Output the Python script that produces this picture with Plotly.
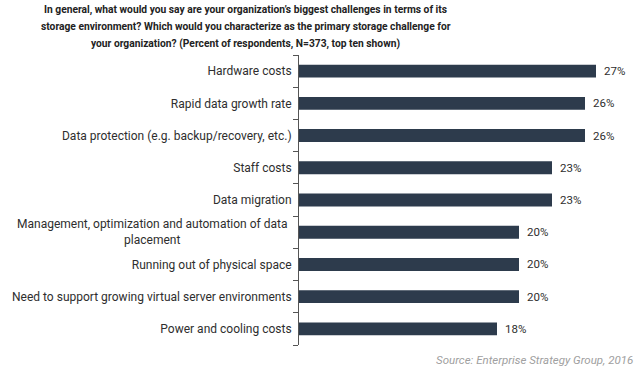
import plotly.graph_objects as go

categories = [
    "Hardware costs",
    "Rapid data growth rate",
    "Data protection (e.g. backup/recovery, etc.)",
    "Staff costs",
    "Data migration",
    "Management, optimization and automation of data<br>placement",
    "Running out of physical space",
    "Need to support growing virtual server environments",
    "Power and cooling costs",
]
values = [27, 26, 26, 23, 23, 20, 20, 20, 18]
value_labels = ["27%", "26%", "26%", "23%", "23%", "20%", "20%", "20%", "18%"]
title_lines = [
    "In general, what would you say are your organization’s biggest challenges in terms of its",
    "storage environment? Which would you characterize as the primary storage challenge for",
    "your organization? (Percent of respondents, N=373, top ten shown)",
]
source_text = "Source: Enterprise Strategy Group, 2016"

FONT = "Roboto, sans-serif"
BAR = "#2d3b4c"
TXT = "#2e2e2e"

fig = go.Figure()
fig.add_trace(go.Bar(
    x=values, y=categories, orientation="h",
    marker=dict(color=BAR, line=dict(width=0)),
    width=0.4, hoverinfo="skip",
))

multi = categories[5]
ticktext = ["" if c == multi else c for c in categories]

annotations = []
for c, v, t in zip(categories, values, value_labels):
    annotations.append(dict(x=v, y=c, xref="x", yref="y", text=t, showarrow=False,
                            xanchor="left", xshift=6,
                            font=dict(family=FONT, size=11.5, color=TXT)))
annotations.append(dict(x=0, y=multi, xref="paper", yref="y", text=multi, showarrow=False,
                        xanchor="right", xshift=-10, align="center",
                        font=dict(family=FONT, size=12, color=TXT)))
for line, shift in zip(title_lines, [46, 29, 12]):
    annotations.append(dict(x=-0.161, y=1, xref="paper", yref="paper", yshift=shift,
                            text="<b>" + line + "</b>", showarrow=False,
                            xanchor="center", yanchor="middle",
                            font=dict(family=FONT, size=10.25, color="#222222")))
annotations.append(dict(x=1, y=0, xref="paper", yref="paper", yshift=-15, xshift=6,
                        text="<i>" + source_text + "</i>", showarrow=False,
                        xanchor="right", yanchor="middle",
                        font=dict(family=FONT, size=11.5, color="#a0a0a0")))

fig.update_layout(
    width=640, height=366,
    margin=dict(l=299, r=11, t=55, b=21, autoexpand=False),
    paper_bgcolor="white", plot_bgcolor="white",
    showlegend=False,
    xaxis=dict(range=[0, 30], visible=False, fixedrange=True, automargin=False),
    yaxis=dict(
        type="category", autorange="reversed", automargin=False, fixedrange=True,
        tickmode="array", tickvals=categories, ticktext=ticktext,
        tickson="boundaries", ticks="outside", ticklen=5, tickcolor="#555555",
        showline=True, linecolor="#555555", linewidth=1,
        showgrid=False, ticklabelstandoff=4,
        tickfont=dict(family=FONT, size=12, color=TXT),
    ),
    annotations=annotations,
)

fig.write_html("out.html", config={"displayModeBar": False},
               post_script="document.body.style.margin='0';document.body.style.overflow='hidden';")
